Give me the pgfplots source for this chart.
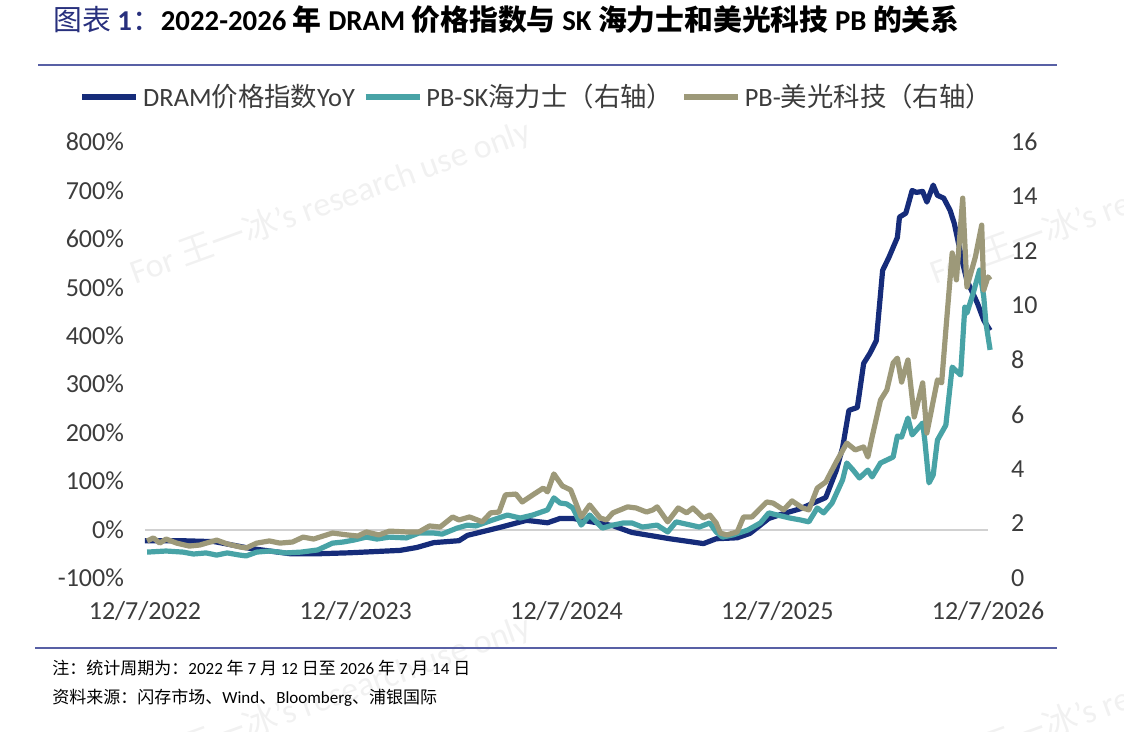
\documentclass[border=0pt]{standalone}
\usepackage{pgfplots}
\pgfplotsset{compat=1.18}
\usepackage{fontspec}
\setmainfont{Carlito}
\newfontfamily\cjk{Noto Sans CJK SC}
\definecolor{dram}{RGB}{22,44,122}
\definecolor{sk}{RGB}{72,163,166}
\definecolor{mu}{RGB}{157,153,121}
\definecolor{rulec}{RGB}{88,96,165}
\definecolor{titlenavy}{RGB}{40,48,125}
\definecolor{tickc}{RGB}{60,60,60}
\definecolor{wm}{RGB}{241,241,241}

\pgfplotstableread{
t v
0.00 -23
0.17 -23
0.33 -25
0.50 -39
0.69 -50
0.82 -50
0.97 -48
1.21 -43
1.29 -37
1.37 -27
1.49 -23
1.53 -12
1.68 4
1.81 19
1.91 14
1.97 23
2.03 23
2.22 8
2.31 -6
2.49 -19
2.65 -29
2.71 -19
2.81 -17
2.87 -8
2.96 23
3.03 33
3.11 43
3.23 66
3.28 122
3.31 169
3.34 246
3.38 252
3.41 343
3.44 364
3.47 390
3.50 535
3.53 562
3.57 603
3.58 645
3.61 653
3.64 700
3.66 696
3.69 698
3.71 676
3.74 711
3.76 690
3.79 684
3.82 659
3.84 632
3.86 591
3.88 550
3.90 514
3.95 467
3.98 432
4.01 411
}\dramtab

\pgfplotstableread{
t v
0.01 0.95
0.10 0.99
0.18 0.95
0.23 0.88
0.29 0.92
0.34 0.84
0.39 0.92
0.45 0.84
0.48 0.81
0.53 0.95
0.59 0.99
0.67 0.92
0.74 0.95
0.82 1.03
0.89 1.28
0.94 1.32
0.99 1.39
1.05 1.50
1.10 1.43
1.16 1.50
1.24 1.47
1.30 1.65
1.37 1.65
1.41 1.61
1.48 1.83
1.53 1.94
1.57 1.91
1.65 2.13
1.72 2.31
1.78 2.20
1.84 2.31
1.91 2.50
1.94 2.94
1.97 2.75
2.00 2.72
2.03 2.57
2.07 1.94
2.11 2.31
2.17 1.83
2.22 1.94
2.27 2.02
2.31 2.02
2.36 1.87
2.43 1.94
2.48 1.69
2.52 2.06
2.59 1.94
2.63 1.87
2.68 2.02
2.71 1.69
2.74 1.50
2.79 1.58
2.86 1.76
2.92 2.02
2.96 2.39
3.00 2.31
3.06 2.20
3.11 2.13
3.15 2.06
3.19 2.57
3.22 2.39
3.26 2.75
3.31 3.60
3.33 4.22
3.36 3.96
3.39 3.67
3.43 3.96
3.45 3.71
3.49 4.22
3.52 4.33
3.55 4.44
3.57 5.21
3.59 5.17
3.62 5.87
3.64 5.25
3.69 5.69
3.70 5.06
3.72 3.49
3.74 3.78
3.76 5.06
3.80 5.61
3.83 7.74
3.87 7.45
3.89 9.94
3.90 9.72
3.93 10.46
3.96 11.30
3.98 10.31
3.99 9.36
4.01 8.37
}\sktab

\pgfplotstableread{
t v
0.01 1.36
0.04 1.47
0.07 1.28
0.10 1.43
0.15 1.28
0.21 1.17
0.26 1.21
0.34 1.39
0.39 1.25
0.45 1.14
0.48 1.10
0.53 1.28
0.59 1.36
0.64 1.28
0.70 1.32
0.75 1.50
0.80 1.43
0.89 1.65
0.96 1.58
1.01 1.54
1.05 1.69
1.11 1.58
1.16 1.72
1.24 1.69
1.30 1.69
1.35 1.91
1.40 1.87
1.46 2.24
1.49 2.13
1.54 2.24
1.60 2.06
1.64 2.39
1.68 2.42
1.71 3.05
1.76 3.08
1.79 2.79
1.84 3.05
1.89 3.30
1.91 3.16
1.94 3.82
1.98 3.38
2.02 3.23
2.07 2.24
2.11 2.68
2.16 2.20
2.19 2.13
2.22 2.39
2.29 2.61
2.33 2.57
2.38 2.42
2.41 2.50
2.43 2.61
2.48 2.06
2.53 2.57
2.57 2.39
2.60 2.57
2.65 2.20
2.68 2.31
2.71 2.02
2.73 1.65
2.76 1.58
2.81 1.69
2.84 2.24
2.88 2.24
2.95 2.79
2.98 2.75
3.03 2.50
3.07 2.83
3.12 2.57
3.15 2.50
3.19 3.30
3.23 3.52
3.28 4.26
3.33 4.95
3.37 4.70
3.41 4.81
3.43 4.44
3.45 5.17
3.49 6.53
3.52 6.90
3.55 7.89
3.57 8.07
3.59 7.19
3.62 8.00
3.65 5.91
3.69 7.16
3.71 5.32
3.76 7.27
3.78 7.16
3.80 9.10
3.83 11.93
3.85 10.94
3.88 13.94
3.90 10.68
3.94 11.78
3.97 12.95
3.98 10.57
4.00 11.05
4.01 10.94
}\mutab

\begin{document}
\begin{tikzpicture}[x=0.5pt,y=0.5pt]
\path[use as bounding box] (0,0) rectangle (1124,732);
\begin{scope}
\clip (0,0) rectangle (1124,732);
\foreach \px/\py in {135/447,935/447,135/-48,935/-48}{
  \node[anchor=base west, rotate=20, text=wm, font=\fontsize{17}{20}\selectfont, inner sep=0pt] at (\px,\py) {For {\cjk 王一冰}'s research use only};
}
\end{scope}
% title
\node[anchor=west, inner sep=0pt] at (53,712) {\fontsize{14.4}{17}\selectfont{\cjk\color{titlenavy}图表 }{\color{titlenavy}\bfseries 1}{\cjk\color{titlenavy}：}\bfseries 2022-2026 {\cjk\bfseries 年} DRAM {\cjk\bfseries 价格指数与} SK {\cjk\bfseries 海力士和美光科技} PB {\cjk\bfseries 的关系}};
\draw[rulec, line width=0.8pt] (38,667) -- (1057,667);
\draw[rulec, line width=0.8pt] (35,84) -- (1057,84);
\node[anchor=west, inner sep=0pt] at (52,64) {\fontsize{8.5}{10}\selectfont{\cjk 注：统计周期为：}2022 {\cjk 年} 7 {\cjk 月} 12 {\cjk 日至} 2026 {\cjk 年} 7 {\cjk 月} 14 {\cjk 日}};
\node[anchor=west, inner sep=0pt] at (52,34) {\fontsize{8.5}{10}\selectfont{\cjk 资料来源：闪存市场、}Wind{\cjk 、}Bloomberg{\cjk 、浦银国际}};
\coordinate (O) at (145,154);
\begin{axis}[
  at={(O)}, anchor=south west, scale only axis,
  width=421.5pt, height=218pt,
  xmin=0, xmax=4, ymin=-100, ymax=800,
  axis line style={draw=none}, major tick length=0pt,
  xtick={0,1,2,3,4},
  xticklabels={12/7/2022,12/7/2023,12/7/2024,12/7/2025,12/7/2026},
  ytick={-100,0,100,200,300,400,500,600,700,800},
  yticklabels={-100\%,0\%,100\%,200\%,300\%,400\%,500\%,600\%,700\%,800\%},
  ticklabel style={font=\fontsize{13}{15}\selectfont, text=tickc},
  xticklabel style={yshift=-8pt},
  yticklabel style={xshift=-7pt},
  clip=false,
  legend columns=3,
  legend style={draw=none, fill=none, at={(0.466,1.103)}, anchor=center,
    font=\fontsize{13.2}{15}\selectfont, text=tickc,
    /tikz/every even column/.append style={column sep=2pt}},
  legend image code/.code={\draw[#1, line width=2.8pt] (0pt,0pt) -- (27pt,0pt);},
]
\draw[black!18, line width=1pt] (axis cs:0,0) -- (axis cs:4,0);
\addplot[dram, line width=2.6pt, line join=round] table[x=t,y=v]{\dramtab};
\addlegendentry{DRAM{\cjk 价格指数}YoY}
\addlegendimage{sk, line width=2.8pt}
\addlegendentry{PB-SK{\cjk 海力士（右轴）}}
\addlegendimage{mu, line width=2.8pt}
\addlegendentry{PB-{\cjk 美光科技（右轴）}}
\end{axis}
\begin{axis}[
  at={(O)}, anchor=south west, scale only axis,
  width=421.5pt, height=218pt,
  xmin=0, xmax=4, ymin=0, ymax=16,
  axis line style={draw=none}, major tick length=0pt,
  axis y line*=right,
  xtick=\empty,
  ytick={0,2,4,6,8,10,12,14,16},
  yticklabels={0,2,4,6,8,10,12,14,16},
  ticklabel style={font=\fontsize{13}{15}\selectfont, text=tickc},
  yticklabel style={xshift=8pt},
  clip=false,
]
\addplot[sk, line width=2.6pt, line join=round] table[x=t,y=v]{\sktab};
\addplot[mu, line width=2.6pt, line join=round] table[x=t,y=v]{\mutab};
\end{axis}
\end{tikzpicture}
\end{document}
